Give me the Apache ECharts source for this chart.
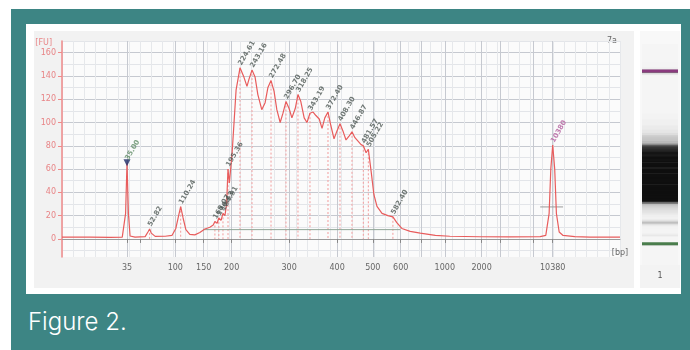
<!DOCTYPE html>
<html>
<head>
<meta charset="utf-8">
<script src="https://cdn.jsdelivr.net/npm/echarts@6/dist/echarts.min.js"></script>
<style>
body { margin: 0; background: #fff; }
#frame { position: absolute; left: 11px; top: 9px; width: 679px; height: 341px; background: #3d8584; }
#panel { position: absolute; left: 26px; top: 24px; width: 655px; height: 270px; background: #fff; }
#plotbg { position: absolute; left: 34px; top: 31px; width: 600px; height: 257px; background: #f2f2f2; }
#lanebg { position: absolute; left: 640px; top: 31px; width: 40px; height: 257px; background: #f3f3f3; }
#caption { position: absolute; left: 28px; top: 307px; color: #fff; font: 300 24px Inter, "Open Sans", sans-serif; }
#chart { position: absolute; left: 0; top: 0; width: 690px; height: 350px; }
</style>
</head>
<body>
<div id="frame"></div>
<div id="panel"></div>
<div id="plotbg"></div>
<div id="lanebg"></div>
<div id="caption">Figure 2.</div>
<div id="chart"></div>
<script>
// x axis is relative migration (0-100 across the plot); ladder sizes sit at these positions
const tickPos = [11.65, 14.0, 20.3, 25.4, 30.4, 40.7, 49.3, 55.7, 60.7, 64.3, 68.6, 75.2, 78.6, 84.4, 87.94];
const tickLabels = ['35', '', '100', '150', '200', '300', '400', '500', '600', '', '1000', '2000', '', '', '10380'];
const fuTicks = [0, 20, 40, 60, 80, 100, 120, 140, 160];
const fuMinor = [-10, 10, 30, 50, 70, 90, 110, 130, 150, 170];

// electropherogram trace
const traceT = [0, 5.0, 8.6, 10.8, 11.1, 11.4, 11.65, 11.9, 12.2, 13.1, 14.9, 15.4, 15.7, 16.0, 16.7, 18.5, 19.7,
  20.4, 20.9, 21.27, 21.7, 22.2, 22.9, 23.8, 24.7, 25.6, 26.5, 27.1, 27.4, 27.8, 28.1, 28.5, 28.85, 29.2, 29.5,
  29.75, 30.0, 30.5, 31.2, 31.9, 32.6, 33.15, 33.5, 34.05, 34.6, 35.1, 35.8, 36.4, 36.9, 37.46, 38.0, 38.5, 39.1,
  39.6, 40.14, 40.7, 41.2, 41.8, 42.29, 42.8, 43.4, 43.9, 44.44, 45.0, 45.5, 46.1, 46.6, 47.1, 47.67, 48.2, 48.75,
  49.3, 49.82, 50.4, 50.9, 51.4, 51.97, 52.5, 53.05, 53.6, 54.0, 54.5, 54.9, 55.4, 55.9, 56.45, 57.35, 58.4, 59.3,
  60.0, 60.9, 62.4, 64.2, 66.9, 69.5, 74.9, 80.3, 85.7, 86.7, 87.3, 87.6, 87.94, 88.3, 88.6, 89.1, 89.8, 91.9,
  94.6, 98.6, 100];
const traceFU = [1.5, 1.5, 1.4, 1.6, 3, 22, 65.5, 22, 2.5, 1.5, 2, 6, 8.6, 5, 2.2, 2.3, 3,
  9, 20, 27.7, 18, 8, 4, 3.5, 5.5, 8.5, 10, 12, 15, 13.5, 18, 16, 22, 20, 30,
  60, 48, 75, 128, 147, 139, 131, 137, 145, 139, 124, 111, 117, 130, 136, 127, 111, 100,
  108, 118, 112, 104, 112, 124, 118, 104, 100, 108, 109, 106, 103, 95, 104, 109, 97, 86,
  93, 99, 92, 85, 88, 92, 87, 84, 81, 80, 74, 77, 58, 38, 28, 22, 20, 19,
  14, 9, 6.5, 5, 3, 2.3, 1.9, 1.8, 2, 3, 22, 60, 80.7, 60, 22, 6, 3, 2,
  1.6, 1.6, 1.6];

// called peaks
const peakT = [11.65, 15.7, 21.27, 27.4, 28.1, 28.85, 29.75, 31.9, 34.05, 37.46, 40.14, 42.29, 44.44, 47.67,
  49.82, 51.97, 54.0, 54.9, 59.3, 87.94];
const peakFU = [65.5, 8.6, 27.7, 15, 18, 22, 60, 147, 145, 136, 118, 124, 108, 109, 99, 92, 80, 77, 19, 80.7];
const peakLabels = ['35.00', '52.82', '110.24', '168.07', '176.43', '184.91', '195.36', '224.61', '243.16',
  '272.48', '296.70', '318.25', '343.19', '372.40', '408.30', '446.87', '481.57', '505.22', '582.40', '10380'];

// markers (lower / upper) and the smear region baseline
const markerT = [11.65, 87.94];
const markerColors = ['#4a7d4c', '#8a3a7e'];
const regionT = [25.3, 60.6];
const regionFU = [8, 8];
const halfT = [85.7, 89.8];
const halfFU = [27.5, 27.5];

const chart = echarts.init(document.getElementById('chart'));

const trace = traceT.map((t, i) => [t, traceFU[i]]);
const drops = [];
peakT.forEach((t, i) => {
  if (markerT.indexOf(t) >= 0) return;
  drops.push([t, peakFU[i]], [t, 0], null);
});
const labelPos = tickPos.filter((p, i) => tickLabels[i]);
const gelData = traceT.slice(0, -1).map((t, i) => [t, traceT[i + 1], (traceFU[i] + traceFU[i + 1]) / 2]);

const option = {
  animation: false,
  textStyle: { fontFamily: 'DejaVu Sans' },
  grid: [
    { left: 62, top: 41, width: 558, height: 216, show: true, backgroundColor: '#fbfbfb', borderWidth: 0, outerBoundsMode: 'none' },
    { left: 640, top: 31, width: 40, height: 234, show: true, backgroundColor: '#f8f8f8', borderWidth: 0, outerBoundsMode: 'none' }
  ],
  xAxis: [
    {
      gridIndex: 0, type: 'value', min: 0, max: 100,
      name: '[bp]', nameLocation: 'end', nameGap: 0,
      nameTextStyle: { color: '#666', fontSize: 8, align: 'center', verticalAlign: 'top', padding: [10, 0, 0, 0] },
      axisLine: { lineStyle: { color: '#9a9a9a' } },
      axisTick: { customValues: tickPos, length: 4, lineStyle: { color: '#888' } },
      axisLabel: {
        customValues: labelPos, color: '#666', fontSize: 8, margin: 7,
        formatter: v => tickLabels[tickPos.indexOf(v)]
      },
      splitLine: { show: true, lineStyle: { color: '#c6c9d0' } }
    },
    {
      gridIndex: 0, type: 'value', min: 0, max: 100, interval: 2, position: 'top',
      axisLine: { show: false }, axisTick: { show: false }, axisLabel: { show: false },
      splitLine: { show: true, lineStyle: { color: '#e6e8eb' } }
    },
    {
      gridIndex: 1, type: 'category', data: ['1'],
      axisLine: { show: false }, axisTick: { show: false },
      axisLabel: { color: '#555', fontSize: 8, margin: 7 }
    }
  ],
  yAxis: [
    {
      gridIndex: 0, type: 'value', min: -15.5, max: 170,
      name: '[FU]', nameLocation: 'end', nameGap: -2,
      nameTextStyle: { color: '#e88486', fontSize: 8, align: 'right', verticalAlign: 'middle', padding: [0, 10, 0, 0] },
      axisLine: { show: true, lineStyle: { color: '#ef8a8a', width: 1.5 } },
      axisTick: { show: true, customValues: fuTicks, length: 4, lineStyle: { color: '#ef8a8a' } },
      axisLabel: { customValues: fuTicks, color: '#e88486', fontSize: 8, margin: 6 },
      splitLine: { show: true, lineStyle: { color: '#c6c9d0' } }
    },
    {
      gridIndex: 0, type: 'value', min: -15.5, max: 170, position: 'right',
      axisLine: { show: false }, axisLabel: { show: false },
      axisTick: { show: false, customValues: fuMinor },
      splitLine: { show: true, lineStyle: { color: '#e3e5e9' } }
    },
    { gridIndex: 1, type: 'value', min: 2.3, max: 105.6, show: false }
  ],
  graphic: [
    { type: 'text', left: 607, top: 37, style: { text: '7a', fill: '#666', fontSize: 8, fontFamily: 'DejaVu Sans' } }
  ],
  series: [
    {
      type: 'line', xAxisIndex: 0, yAxisIndex: 0, data: drops, showSymbol: false, z: 3,
      lineStyle: { color: '#f29c9c', width: 1, type: [2, 2] }
    },
    {
      type: 'line', xAxisIndex: 0, yAxisIndex: 0, data: regionT.map((t, i) => [t, regionFU[i]]),
      showSymbol: false, z: 3, lineStyle: { color: '#8fa596', width: 1 }
    },
    {
      type: 'line', xAxisIndex: 0, yAxisIndex: 0, data: halfT.map((t, i) => [t, halfFU[i]]),
      showSymbol: false, z: 3, lineStyle: { color: '#9a9a9a', width: 1 }
    },
    {
      type: 'line', xAxisIndex: 0, yAxisIndex: 0, data: trace, showSymbol: false, z: 5,
      lineStyle: { color: '#e85c5c', width: 1.2 }
    },
    {
      type: 'scatter', xAxisIndex: 0, yAxisIndex: 0, z: 6,
      symbol: 'triangle', symbolRotate: 180, symbolSize: 7,
      itemStyle: { color: '#1d2b66' },
      data: [[peakT[0], peakFU[0]]]
    },
    {
      type: 'scatter', xAxisIndex: 0, yAxisIndex: 0, z: 7, symbolSize: 0,
      data: peakT.map((t, i) => ({
        value: [t, peakFU[i]],
        label: { color: i === 0 ? '#5c8a62' : (i === peakT.length - 1 ? '#b25c9c' : '#4f5955') }
      })),
      label: {
        show: true, position: 'top', distance: 3, rotate: 60, align: 'left', verticalAlign: 'middle',
        fontSize: 7, fontWeight: 'bold',
        formatter: p => peakLabels[p.dataIndex]
      }
    },
    {
      type: 'custom', xAxisIndex: 2, yAxisIndex: 2, clip: true, data: gelData,
      renderItem: (params, api) => {
        const y0 = api.coord([0, api.value(0)])[1];
        const y1 = api.coord([0, api.value(1)])[1];
        const cs = params.coordSys;
        const f = Math.min(1, Math.max(0, api.value(2) - 2) / 90);
        const g = Math.round(245 - 230 * f);
        return {
          type: 'rect',
          shape: { x: cs.x + 2, y: Math.min(y0, y1), width: cs.width - 4, height: Math.abs(y1 - y0) + 0.6 },
          style: { fill: 'rgb(' + g + ',' + g + ',' + g + ')' }
        };
      }
    },
    {
      type: 'custom', xAxisIndex: 2, yAxisIndex: 2, clip: true, z: 4,
      data: markerT.map((t, i) => [t, i]),
      renderItem: (params, api) => {
        const y = api.coord([0, api.value(0)])[1];
        const cs = params.coordSys;
        return {
          type: 'rect',
          shape: { x: cs.x + 2, y: y - 1.5, width: cs.width - 4, height: 3 },
          style: { fill: markerColors[api.value(1)] }
        };
      }
    }
  ]
};

chart.setOption(option);
</script>
</body>
</html>
